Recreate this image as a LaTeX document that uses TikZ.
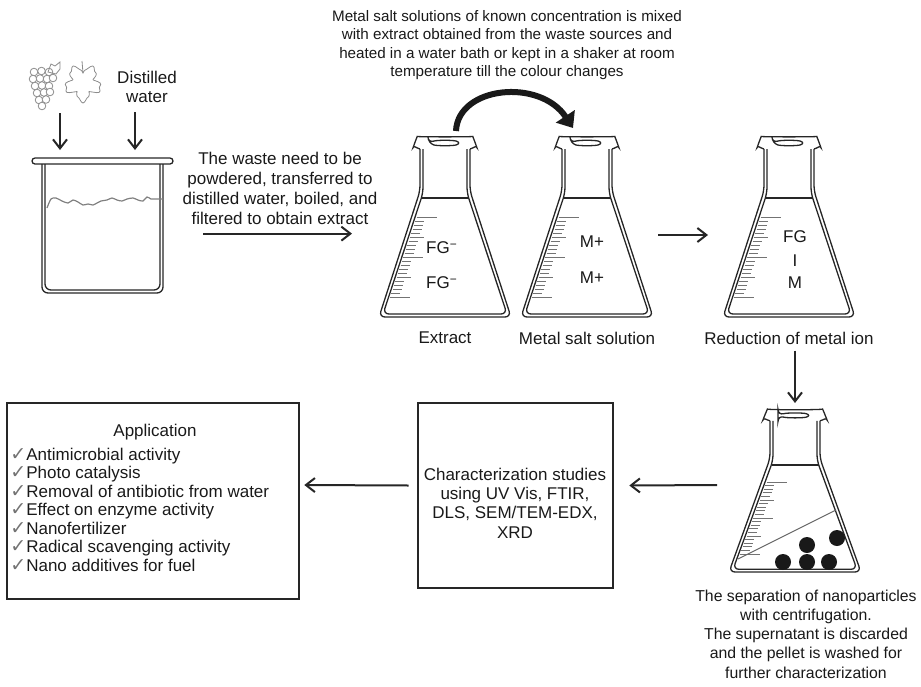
\documentclass[tikz,border=0pt]{standalone}
\usepackage{fontspec}
\setmainfont{Liberation Sans}
\newfontfamily\symfont{DejaVu Sans}
\usetikzlibrary{arrows.meta}
\usetikzlibrary{calc}
\usetikzlibrary{positioning}

\newcommand{\chk}{{\symfont\color{black!55}\fontsize{9.5}{9.5}\selectfont ✓}}

\tikzset{
    lbl/.style={font=\fontsize{8.5}{9.7}\selectfont, text=black!90, inner sep=0pt, align=center},
    item/.style={font=\fontsize{8.5}{9.3}\selectfont, text=black!90, inner sep=0pt, anchor=base west},
    box/.style={draw=black!85, line width=1.3pt, inner sep=0pt},
    barb/.style={-{Straight Barb[length=4.5pt,width=7pt]}, line width=1pt, black!85},
    glass/.style={line width=0.65pt, black!85, rounded corners=3pt},
    tickline/.style={line width=0.5pt, black!55},
    grapeline/.style={line width=0.4pt, black!45},
    pics/flask/.style={code={
        % outer and inner wall
        \draw[glass] (-25,12) -- (-25,54) -- (-66,180) -- (66,180) -- (25,54) -- (25,12);
        \draw[glass] (-22,12) -- (-22,56) -- (-62,177) -- (62,177) -- (22,56) -- (22,12);
        % lip
        \draw[glass] (-25,12) .. controls (-29,11) and (-31,8) .. (-30,5)
            .. controls (-28,0) and (28,0) .. (30,5)
            .. controls (31,8) and (29,11) .. (25,12);
        \draw[glass] (-17,6) .. controls (-8,3) and (8,3) .. (17,6)
            .. controls (8,9) and (-8,9) .. cycle;
        % liquid level
        \draw[glass] (-23.5,61) -- (23.5,61);
        % graduation
        \foreach \k in {0,...,20}{
            \pgfmathsetmacro\ty{80+4*\k}
            \pgfmathsetmacro\tx{-22-40*(\ty-56)/121+1.5}
            \pgfmathsetmacro\tl{ifthenelse(mod(\k,10)==0,20,ifthenelse(mod(\k,5)==0,14,9))}
            \draw[tickline] (\tx,\ty) -- ++(\tl,0);
        }
    }}
}

\begin{document}
\begin{tikzpicture}[x=0.5pt,y=-0.5pt]
    \useasboundingbox (0,0) rectangle (921,686);

    % grapes and leaf
    \foreach \gx/\gy in {34/72,41.5/71,49/72,33/79,40/78.5,47/79,53/78,35/86,42/85.5,49/86,37/93,44/92.5,50/92,39/100,46/99.5,42/106}
        \draw[grapeline, fill=white] (\gx,\gy) circle[radius=3.8];
    \draw[grapeline] (48,72) -- (51,64) -- (55,66) -- (60,62) -- (60,69) -- (56,74) -- cycle;
    \draw[grapeline] plot[samples=73, domain=-90:270, variable=\t]
        ({83+(10+10*abs(cos(2.5*(\t-90)))*(0.85+0.15*cos(12*\t)))*cos(\t)},
         {83+(10+10*abs(cos(2.5*(\t-90)))*(0.85+0.15*cos(12*\t)))*sin(\t)}) -- cycle;
    \draw[grapeline] (83,73) -- (82,61);
    \coordinate (src) at (60,113);

    \node[lbl] (dw) at (147,87) {Distilled\\water};
    \coordinate (dwa) at ($(dw.south)+(-12,9)$);

    % beaker
    \draw[glass, rounded corners=1.5pt] (32,158) rectangle (173,164);
    \draw[glass] (42,164) -- (42,293) -- (163,293) -- (163,164);
    \draw[glass] (45,164) -- (45,290) -- (160,290) -- (160,164);
    \draw[black!50, line width=0.6pt] plot[smooth] coordinates {(47,208) (51,199) (56,198) (62,201) (68,203) (73,200) (78,202) (83,205) (88,204) (93,205) (97,203) (101,201) (107,200) (112,198) (117,200) (122,201) (127,199) (133,198) (138,200) (143,201) (147,197) (151,199) (155,199) (163,199)};
    \coordinate (bk1) at (60,150);
    \coordinate (bk2) at (135,150);
    \draw[barb] (src) -- (bk1);
    \draw[barb] (dwa) -- (bk2);

    \node[lbl, font=\fontsize{8.5}{10}\selectfont] (waste) at (280,188) {The waste need to be\\powdered, transferred to\\distilled water, boiled, and\\filtered to obtain extract};
    \coordinate (w1) at ($(waste.south)+(-77,9)$);
    \coordinate (w2) at ($(waste.south)+(72,9)$);
    \draw[barb] (w1) -- (w2);

    % flasks
    \pic at (445,137) {flask};
    \pic at (587,137) {flask};
    \pic at (789,137) {flask};
    \pic[yscale=0.9] at (795,410) {flask};

    \node[lbl] (fg1) at (442,248) {FG\textsuperscript{−}};
    \node[lbl] (fg2) at (442,283) {FG\textsuperscript{−}};
    \node[lbl] (m1) at (592,242) {M+};
    \node[lbl] (m2) at (592,278) {M+};
    \node[lbl] (fg) at (795,237) {FG};
    \node[lbl] (bond) at (795,261) {I};
    \node[lbl] (mm) at (795,283) {M};

    \node[lbl] (ext) at (445,338) {Extract};
    \node[lbl] (salt) at (587,338) {Metal salt solution};
    \node[lbl] (red) at (789,338) {Reduction of metal ion};

    \node[lbl, font=\fontsize{7.6}{9.25}\selectfont] (mixing) at (507,45) {Metal salt solutions of known concentration is mixed\\with extract obtained from the waste sources and\\heated in a water bath or kept in a shaker at room\\temperature till the colour changes};

    \coordinate (c1) at (456,131);
    \coordinate (c2) at (573,128);
    \draw[line width=3pt, black!90, -{Triangle[length=7pt,width=11pt]}] (c1) .. controls (458,86) and (540,78) .. (c2);

    \coordinate (s1) at (658,235);
    \coordinate (s2) at (708,235);
    \draw[barb] (s1) -- (s2);
    \coordinate (r1) at ($(red.south)+(6,6)$);
    \coordinate (r2) at (795,403);
    \draw[barb] (r1) -- (r2);

    % pellet
    \draw[black!60, line width=0.5pt] (738,559) -- (836,510);
    \foreach \px/\py in {783/562,807/545,807/562,829/562,837/538}
        \fill[black!90] (\px,\py) circle[radius=8];

    \node[lbl, font=\fontsize{7.9}{9.6}\selectfont] (sep) at (806,634) {The separation of nanoparticles\\with centrifugation.\\The supernatant is discarded\\and the pellet is washed for\\further characterization};

    % characterization and applications
    \node[box, minimum width=97.5pt, minimum height=92.5pt] (charbox) at (515.5,495.5) {};
    \node[lbl] (chartext) at (515,503) {Characterization studies\\using UV Vis, FTIR,\\DLS, SEM/TEM-EDX,\\XRD};
    \coordinate (p1) at (717,485);
    \coordinate (p2) at ($(charbox.east)+(15,-10)$);
    \draw[barb] (p1) -- (p2);

    \node[box, minimum width=146pt, minimum height=98pt] (appbox) at (153,501) {};
    \node[lbl] (apptitle) at (155,432) {Application};
    \foreach \itm [count=\i] in {Antimicrobial activity, Photo catalysis, Removal of antibiotic from water, Effect on enzyme activity, Nanofertilizer, Radical scavenging activity, Nano additives for fuel}
        \node[item] (app\i) at (10,441.5+18.5*\i) {\chk\itm};
    \coordinate (q1) at ($(charbox.west)+(-8,-10)$);
    \coordinate (q2) at ($(appbox.east)+(4,-16)$);
    \draw[barb] (q1) -- (q2);
\end{tikzpicture}
\end{document}
